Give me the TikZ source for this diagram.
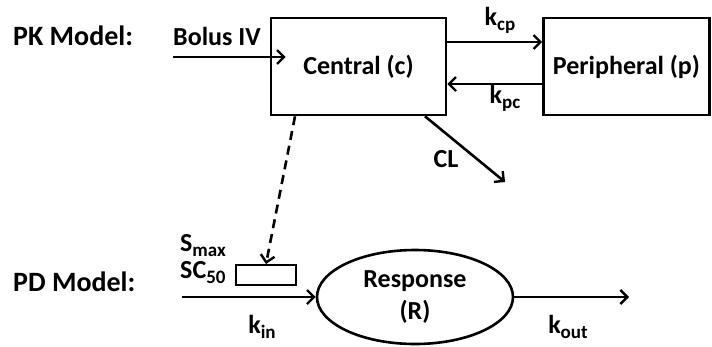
\documentclass[tikz,border=0pt]{standalone}
\usepackage{fontspec}
\setmainfont{Carlito}
\usetikzlibrary{arrows.meta,shapes.geometric}
\newcommand{\subs}[1]{\raisebox{-5pt}{\fontsize{19}{19}\selectfont #1}}
\begin{document}
\begin{tikzpicture}[x=1pt,y=-1pt,
  every node/.style={font=\fontsize{26}{32}\selectfont\bfseries},
  comp/.style={draw,line width=2.6pt,inner sep=0pt,minimum height=97pt},
  lbl/.style={inner sep=0pt,anchor=base},
  biglbl/.style={inner sep=0pt,anchor=base west,font=\fontsize{28}{32}\selectfont\bfseries},
  flow/.style={line width=2.6pt,-{Straight Barb[length=7pt,width=14pt,line width=2.4pt]}}]
\useasboundingbox (0,0) rectangle (712,346);
\node[comp,minimum width=175pt] (central) at (358.5,66.5) {Central (c)};
\node[comp,minimum width=166pt] (periph) at (626.5,66.5) {Peripheral (p)};
\node[draw,ellipse,line width=2.6pt,inner sep=0pt,minimum width=196pt,minimum height=94pt,align=center] (resp) at (415,297) {Response\\(R)};
\node[draw,line width=2pt,inner sep=0pt,minimum width=60pt,minimum height=20pt] (sbox) at (266,275) {};
\node[biglbl] (pk) at (13,45) {PK Model:};
\node[biglbl] (pd) at (13,291) {PD Model:};
\node[lbl,anchor=base west] (bolus) at (173,45) {Bolus IV};
\node[lbl] (kcp) at (500,25) {k\subs{cp}};
\node[lbl] (kpc) at (505,103) {k\subs{pc}};
\node[lbl] (cl) at (446,167) {CL};
\node[lbl,anchor=base west] (smax) at (180,251) {S\subs{max}};
\node[lbl,anchor=base west] (sc50) at (180,278) {SC\subs{50}};
\node[lbl] (kin) at (262,333) {k\subs{in}};
\node[lbl] (kout) at (568,333) {k\subs{out}};
\coordinate (bolusstart) at (173,57);
\coordinate (clend) at (505,182);
\coordinate (kinstart) at (182,297);
\coordinate (koutend) at (629,297);
\draw[flow] (bolusstart) -- ([xshift=16pt,yshift=9.5pt]central.west);
\draw[flow] ([yshift=24.5pt]central.east) -- ([yshift=24.5pt]periph.west);
\draw[flow] ([yshift=-17.5pt]periph.west) -- ([yshift=-17.5pt]central.east);
\draw[flow] ([xshift=66.5pt]central.south) -- (clend);
\draw[flow,dash pattern=on 9pt off 6pt] ([xshift=-63.5pt]central.south) -- (sbox.north);
\draw[flow] (kinstart) -- (resp.west);
\draw[flow] (resp.east) -- (koutend);
\end{tikzpicture}
\end{document}
